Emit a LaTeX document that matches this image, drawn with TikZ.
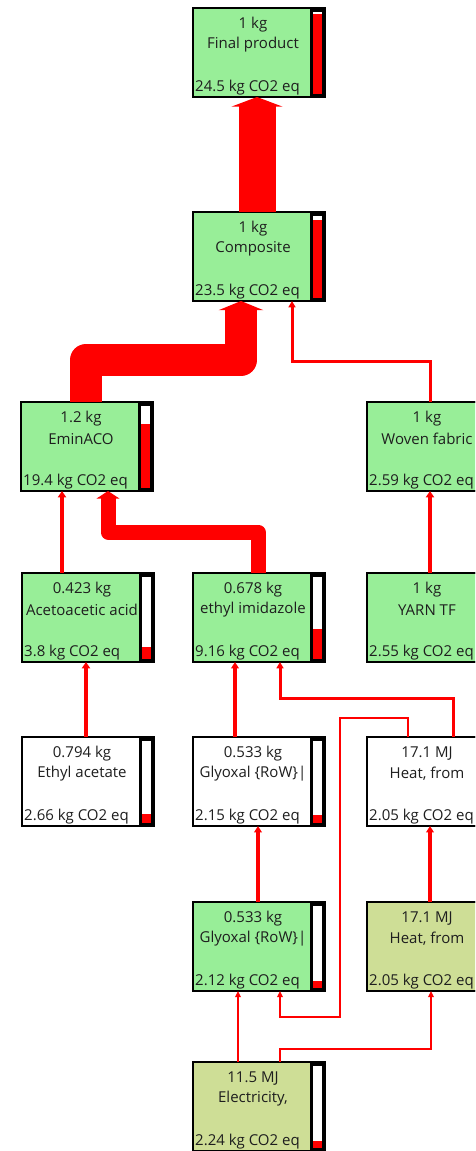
\documentclass[tikz,border=0pt]{standalone}
\usepackage{fontspec}
\setmainfont{Open Sans}
\usetikzlibrary{arrows.meta}
\definecolor{pgreen}{RGB}{152,238,152}
\definecolor{polive}{RGB}{206,222,150}
\definecolor{txt}{RGB}{30,30,30}
\tikzset{
 pbox/.style={draw=black, line width=1.6pt, anchor=north west, minimum width=132pt, minimum height=89pt, inner sep=0pt, outer sep=0pt},
 qtxt/.style={font=\fontsize{15}{17}\selectfont, text=txt, inner sep=0pt},
 fl/.style={draw=red, line width=#1, -{Triangle[width=3pt 1.3, length=6pt 0.1]}},
}
\newcommand{\procbox}[8]{%
 \node[pbox, fill=#4] (#1) at (#2,#3) {};
 \fill[black] ([xshift=-15pt]#1.north east) rectangle (#1.south east);
 \fill[white] ([xshift=-12pt,yshift=-4pt]#1.north east) rectangle ([xshift=-3pt,yshift=3pt]#1.south east);
 \fill[red] ([xshift=-12pt,yshift=3pt]#1.south east) rectangle ([xshift=-3pt,yshift={3pt+#8*82pt}]#1.south east);
 \draw[line width=1.6pt] (#1.north west) rectangle (#1.south east);
 \node[qtxt] (#1-q) at ([xshift=60pt,yshift=-17pt]#1.north west) {#5};
 \node[qtxt] (#1-n) at ([xshift=60pt,yshift=-37pt]#1.north west) {#6};
 \node[qtxt, anchor=west] (#1-c) at ([xshift=2pt,yshift=-80pt]#1.north west) {#7};
}
\begin{document}
\begin{tikzpicture}[x=1pt,y=-1pt]
\useasboundingbox (0,0) rectangle (475,1151);
\clip (0,0) rectangle (475,1151);
\fill[white] (0,0) rectangle (475,1151);
\procbox{final}{193}{8}{pgreen}{1 kg}{Final product}{24.5 kg CO2 eq}{0.97}
\procbox{comp}{193}{212}{pgreen}{1 kg}{Composite}{23.5 kg CO2 eq}{0.95}
\procbox{emin}{21}{402}{pgreen}{1.2 kg}{EminACO}{19.4 kg CO2 eq}{0.78}
\procbox{woven}{367}{402}{pgreen}{1 kg}{Woven fabric}{2.59 kg CO2 eq}{0.1}
\procbox{acet}{22}{573}{pgreen}{0.423 kg}{Acetoacetic acid}{3.8 kg CO2 eq}{0.15}
\procbox{imid}{193}{573}{pgreen}{0.678 kg}{ethyl imidazole}{9.16 kg CO2 eq}{0.36}
\procbox{yarn}{367}{573}{pgreen}{1 kg}{YARN TF}{2.55 kg CO2 eq}{0.1}
\procbox{etac}{22}{737}{white}{0.794 kg}{Ethyl acetate}{2.66 kg CO2 eq}{0.11}
\procbox{glya}{193}{737}{white}{0.533 kg}{Glyoxal \{RoW\}|}{2.15 kg CO2 eq}{0.1}
\procbox{heata}{367}{737}{white}{17.1 MJ}{Heat, from}{2.05 kg CO2 eq}{0.08}
\procbox{glyb}{193}{902}{pgreen}{0.533 kg}{Glyoxal \{RoW\}|}{2.12 kg CO2 eq}{0.09}
\procbox{heatb}{367}{902}{polive}{17.1 MJ}{Heat, from}{2.05 kg CO2 eq}{0.08}
\procbox{elec}{193}{1062}{polive}{11.5 MJ}{Electricity,}{2.24 kg CO2 eq}{0.09}
% connectors
\draw[fl=37pt] ([xshift=-2pt]comp.north) -- ([xshift=-2pt]final.south);
\draw[fl=32pt, line join=round] ([xshift=-1pt]emin.north) -- ++(0,-42) -| ([xshift=-18pt]comp.south);
\draw[fl=3pt] ([xshift=-3pt]woven.north) -- ++(0,-41) -| ([xshift=33pt]comp.south);
\draw[fl=4pt] ([xshift=-26pt]acet.north) -- ([xshift=-26pt]acet.north |- emin.south);
\draw[fl=15pt, line join=round] ([xshift=-1pt]imid.north) -- ++(0,-41) -| ([xshift=21pt]emin.south);
\draw[fl=4pt] ([xshift=-2pt]etac.north) -- ([xshift=-2pt]etac.north |- acet.south);
\draw[fl=3.5pt] ([xshift=-24pt]glya.north) -- ([xshift=-24pt]glya.north |- imid.south);
\draw[fl=3pt] ([xshift=20pt]heata.north) -- ++(0,-39) -| ([xshift=21pt]imid.south);
\draw[fl=4pt] ([xshift=-3pt]yarn.north) -- ([xshift=-3pt]yarn.north |- woven.south);
\draw[fl=3.5pt] ([xshift=-1pt]glyb.north) -- ([xshift=-1pt]glyb.north |- glya.south);
\draw[fl=3.5pt] ([xshift=-3pt]heatb.north) -- ([xshift=-3pt]heatb.north |- heata.south);
\draw[fl=2pt] ([xshift=-21pt]elec.north) -- ([xshift=-21pt]elec.north |- glyb.south);
\draw[fl=2pt] ([xshift=21pt]elec.north) -- ++(0,-13) -| ([xshift=-2pt]heatb.south);
\draw[fl=2pt] ([xshift=-25pt]heata.north) -- ++(0,-19) -- ++(-68,0) -- ++(0,299) -| ([xshift=21pt]glyb.south);
\end{tikzpicture}
\end{document}
